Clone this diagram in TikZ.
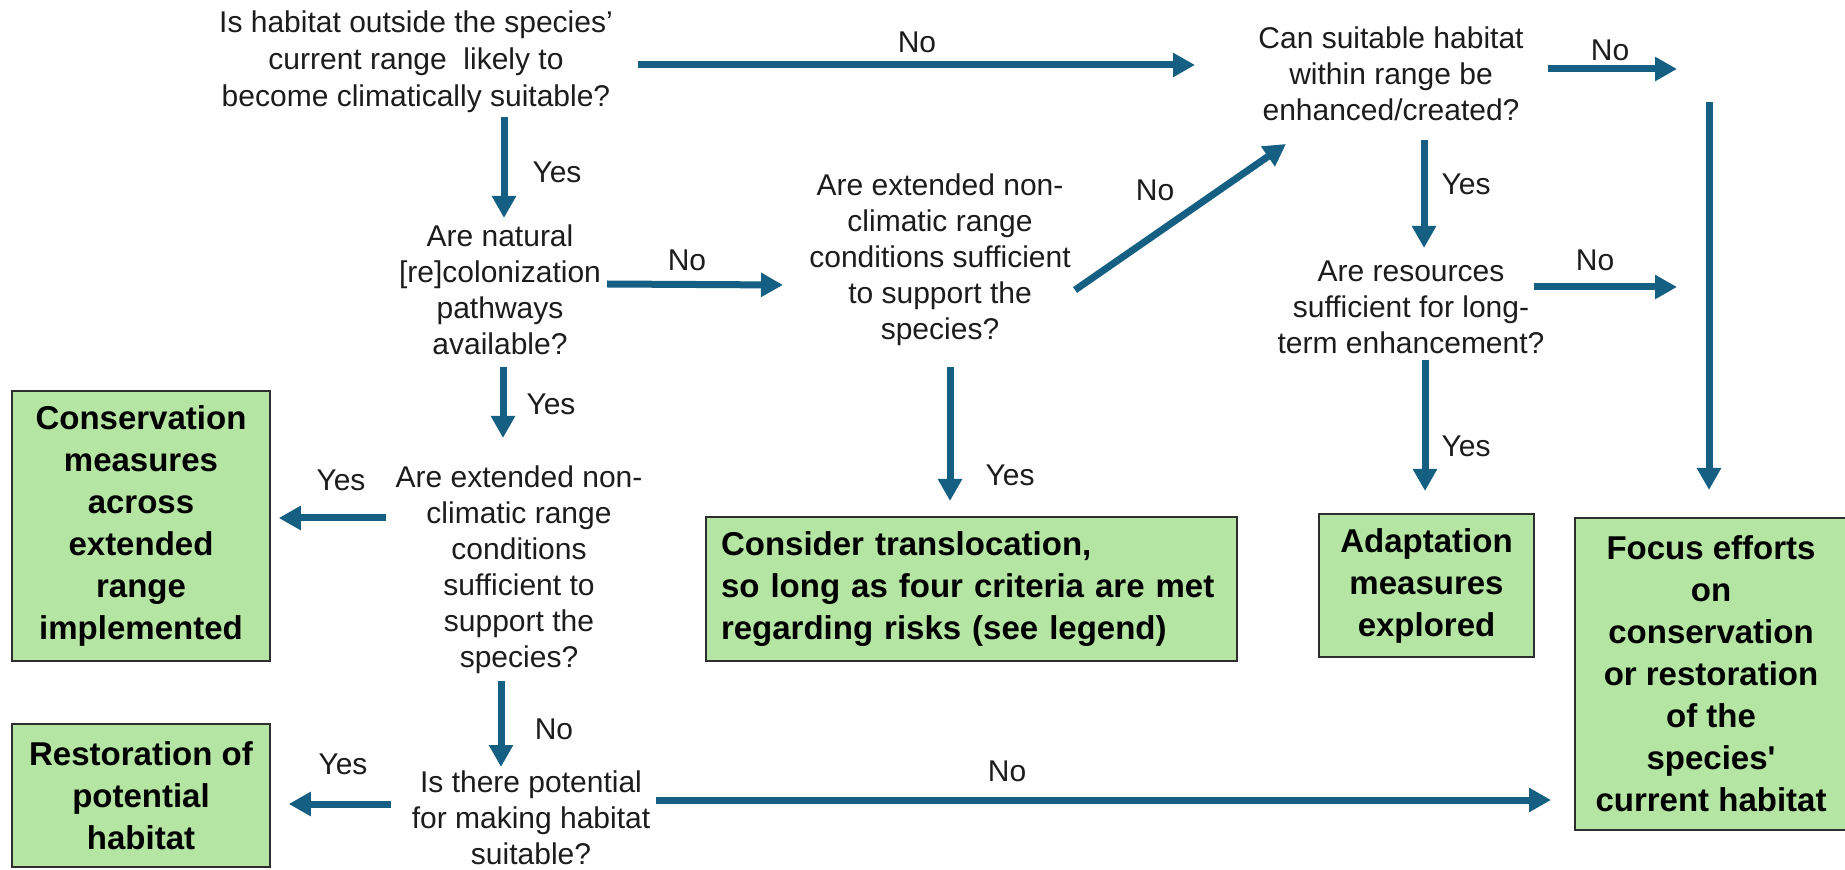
\documentclass[tikz,border=0pt]{standalone}
\usepackage{fontspec}
\setmainfont{Liberation Sans}
\usetikzlibrary{arrows.meta,calc}
\definecolor{arrowblue}{HTML}{156082}
\definecolor{boxgreen}{HTML}{B4E5A2}
\definecolor{qtext}{HTML}{1C1C1C}
\definecolor{boxline}{HTML}{2E2E2E}
\begin{document}
\begin{tikzpicture}[x=0.5pt,y=-0.5pt,
  question/.style={align=center, inner sep=0pt, text=qtext, font=\fontsize{15pt}{18pt}\selectfont},
  answer/.style={inner sep=0pt, text=qtext, font=\fontsize{15pt}{18pt}\selectfont},
  outcome/.style={draw=boxline, line width=1pt, fill=boxgreen, inner sep=0pt, align=center, text=black,
                  font=\bfseries\fontsize{16.5pt}{21pt}\selectfont},
  arr/.style={draw=arrowblue, line width=3.5pt, -{Triangle[width=11.5pt,length=11pt]}},
]
\useasboundingbox (0,0) rectangle (1845,870);

% questions
\node[question, font=\fontsize{15pt}{18.5pt}\selectfont] (q1) at (416,62) {Is habitat outside the species’\\current range~ likely to\\become climatically suitable?};
\node[question] (q2) at (500,290) {Are natural\\{}[re]colonization\\pathways\\available?};
\node[question] (q3) at (940,260) {Are extended non-\\climatic range\\conditions sufficient\\to support the\\species?};
\node[question] (q4) at (519,570) {Are extended non-\\climatic range\\conditions\\sufficient to\\support the\\species?};
\node[question] (q5) at (1391,74) {Can suitable habitat\\within range be\\enhanced/created?};
\node[question] (q6) at (1411,307) {Are resources\\sufficient for long-\\term enhancement?};
\node[question] (q7) at (531,818) {Is there potential\\for making habitat\\suitable?};

% outcomes
\node[outcome, minimum width=128.75pt, minimum height=135pt] (b1) at (141,526)
  {Conservation\\measures\\across\\extended\\range\\implemented};
\node[outcome, minimum width=128.75pt, minimum height=71.5pt] (b2) at (141,795.5)
  {Restoration of\\potential\\habitat};
\node[outcome, minimum width=265.5pt, minimum height=72pt, align=left, text width=250.5pt] (b3) at (971.5,589)
  {Consider translocation,\\so long as four criteria are met\\regarding risks (see legend)};
\node[outcome, minimum width=107.5pt, minimum height=71.5pt] (b4) at (1426.5,585.5)
  {Adaptation\\measures\\explored};
\node[outcome, minimum width=136pt, minimum height=156pt] (b5) at (1711,674)
  {Focus efforts\\on\\conservation\\or restoration\\of the\\species\textquotesingle\\current habitat};

% free ends
\coordinate (n5end) at (1677,69);
\coordinate (n6end) at (1677,287);
\coordinate (vstart) at (1709,102);

% connectors
\draw[arr] ([shift={(222,3)}]q1.center) -- ([shift={(-196,-9)}]q5.center);
\draw[arr] ([shift={(88,55)}]q1.center) -- ([shift={(4,-72)}]q2.center);
\draw[arr] ([shift={(107,-6)}]q2.center) -- ([shift={(-157,25)}]q3.center);
\draw[arr] ([shift={(3,77)}]q2.center) -- ([shift={(-16,-132)}]q4.center);
\draw[arr] ([shift={(135,30)}]q3.center) -- ([shift={(-105,70)}]q5.center);
\draw[arr] ([shift={(10,107)}]q3.center) -- ([shift={(-21.5,-15)}]b3.north);
\draw[arr] ([shift={(157,-5)}]q5.center) -- (n5end);
\draw[arr] (vstart) -- ([shift={(-2,-27)}]b5.north);
\draw[arr] ([shift={(33,66)}]q5.center) -- ([shift={(13,-59)}]q6.center);
\draw[arr] ([shift={(123,-20)}]q6.center) -- (n6end);
\draw[arr] ([shift={(14,53)}]q6.center) -- ([shift={(-1.5,-22)}]b4.north);
\draw[arr] ([shift={(-133,-52)}]q4.center) -- ([shift={(8,-8)}]b1.east);
\draw[arr] ([shift={(-18,111)}]q4.center) -- ([shift={(-30,-51)}]q7.center);
\draw[arr] ([shift={(-140,-14)}]q7.center) -- ([shift={(18,8.5)}]b2.east);
\draw[arr] ([shift={(125,-18)}]q7.center) -- ([shift={(-23,126)}]b5.west);

% answer labels
\node[answer] (a1) at (917,42) {No};
\node[answer] (a2) at (557,172) {Yes};
\node[answer] (a3) at (687,260) {No};
\node[answer] (a4) at (551,404) {Yes};
\node[answer] (a5) at (1155,190) {No};
\node[answer] (a6) at (1010,475) {Yes};
\node[answer] (a7) at (1610,50) {No};
\node[answer] (a9) at (1466,184) {Yes};
\node[answer] (a10) at (1595,260) {No};
\node[answer] (a11) at (1466,446) {Yes};
\node[answer] (a12) at (341,480) {Yes};
\node[answer] (a13) at (554,729) {No};
\node[answer] (a14) at (343,764) {Yes};
\node[answer] (a15) at (1007,771) {No};
\end{tikzpicture}
\end{document}
